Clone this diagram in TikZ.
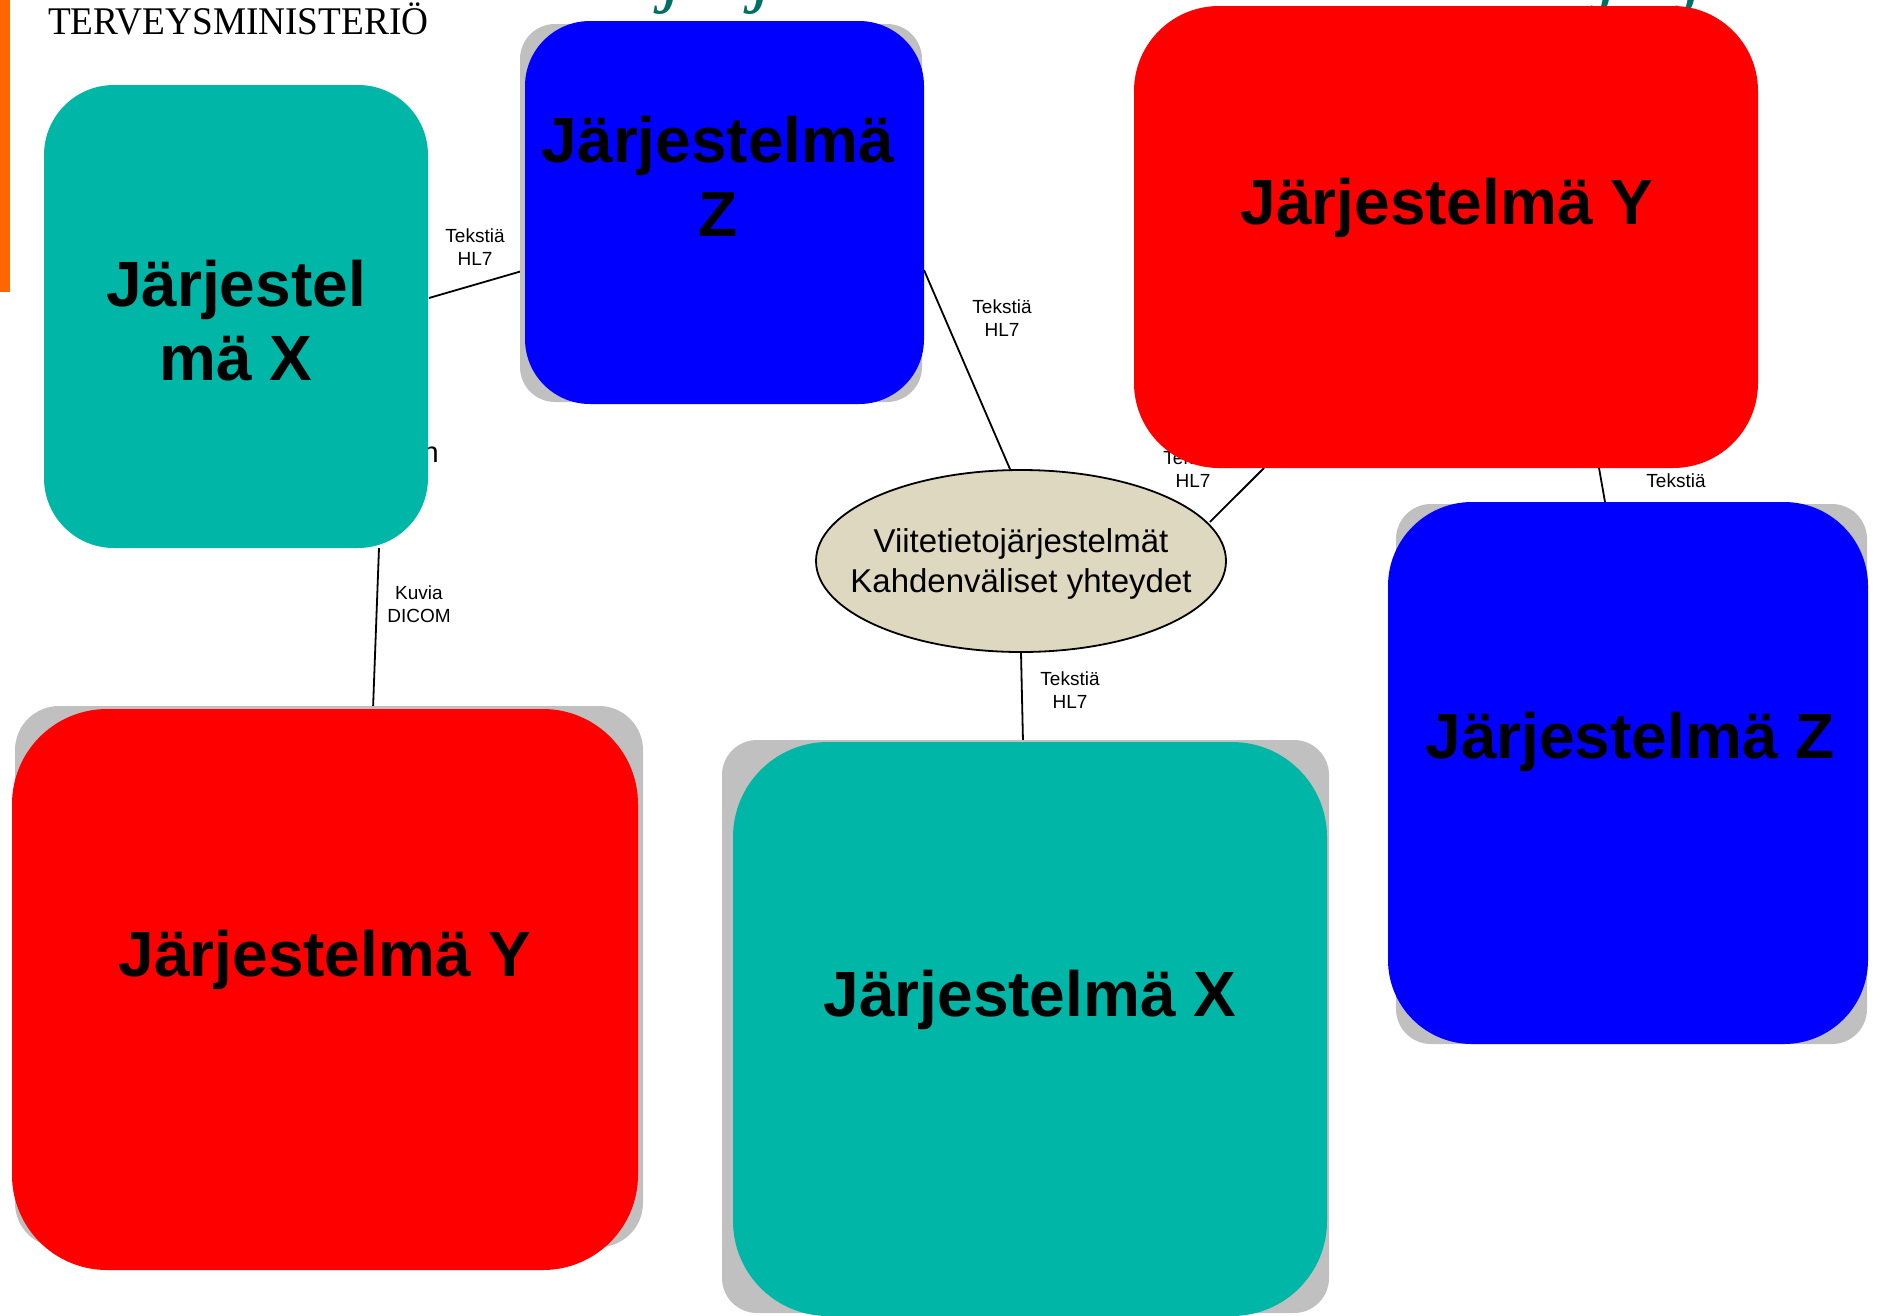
\documentclass[tikz,border=0pt]{standalone}
\usepackage{fontspec}
\setmainfont{Liberation Serif}
\newfontfamily\arialf{Liberation Sans}
\usetikzlibrary{shapes.geometric,calc}
\pgfdeclarelayer{bg}
\pgfsetlayers{bg,main}
\definecolor{tealc}{RGB}{0,182,166}
\definecolor{bluec}{RGB}{0,0,255}
\definecolor{redc}{RGB}{255,0,0}
\definecolor{shadowc}{RGB}{192,192,192}
\definecolor{ellc}{RGB}{223,216,192}
\definecolor{orangec}{RGB}{255,102,0}
\definecolor{titlec}{RGB}{0,112,100}
\begin{document}
\begin{tikzpicture}[x=1pt,y=-1pt,
  sysbox/.style={rectangle, inner sep=0pt, outer sep=0pt, draw=none},
  systext/.style={font=\arialf\bfseries\fontsize{64}{74}\selectfont, inner sep=0pt, anchor=base, align=center},
  lbl/.style={font=\arialf\fontsize{19}{23}\selectfont, inner sep=0pt, anchor=base, align=center},
  conn/.style={draw=black, line width=1.8pt},
  jglyph/.style={anchor=base west, inner sep=0pt, text=titlec, font=\itshape\fontsize{80}{80}\selectfont},
]
\useasboundingbox (0,0) rectangle (1881,1315);
\clip (0,0) rectangle (1881,1315);

% orange side bar and header text
\fill[orangec] (0,0) rectangle (10,292);
\node[anchor=base west, inner sep=0pt, font=\fontsize{37.3}{40}\selectfont] (org) at (48,34) {\scalebox{1}[1.05]{TERVEYSMINISTERIÖ}};

% cut-off title descenders
\node[jglyph] (j1) at (662,-3) {j};
\node[jglyph] (j2) at (752,-3) {j};
\node[jglyph] (j3) at (1598,-3) {j};
\node[jglyph] (j4) at (1683,-3) {j};

% partly hidden text
\node[anchor=base east, inner sep=0pt, font=\arialf\fontsize{29}{30}\selectfont] (nn) at (439,462) {n};

% shadows
\fill[shadowc, rounded corners=35pt] (520,24) rectangle (922,402);
\fill[shadowc, rounded corners=35pt] (1396,504) rectangle (1867,1044);
\fill[shadowc, rounded corners=44pt] (15,706) rectangle (643,1247);
\fill[shadowc, rounded corners=35pt] (722,740) rectangle (1329,1313);

% system boxes
\node[sysbox, fill=tealc, rounded corners=70pt, minimum width=384pt, minimum height=463pt] (tx) at (236,316.5) {};
\node[sysbox, fill=bluec, rounded corners=65pt, minimum width=399pt, minimum height=383pt] (bzt) at (724.5,212.5) {};
\node[sysbox, fill=redc, rounded corners=85pt, minimum width=624pt, minimum height=462pt] (ryt) at (1446,237) {};
\node[sysbox, fill=bluec, rounded corners=84pt, minimum width=480pt, minimum height=542pt] (bzr) at (1628,773) {};
\node[sysbox, fill=redc, rounded corners=95pt, minimum width=626pt, minimum height=561pt] (ryb) at (325,989.5) {};
\node[sysbox, fill=tealc, rounded corners=95pt, minimum width=594pt, minimum height=574pt] (txb) at (1030,1029) {};

% central ellipse
\node[ellipse, fill=ellc, draw=black, line width=1.8pt, minimum width=410pt, minimum height=182pt, inner sep=0pt] (el) at (1021,561) {};
\node[font=\arialf\fontsize{33}{40}\selectfont, anchor=base, align=center, inner sep=0pt] (elt) at (1021,592) {Viitetietojärjestelmät\\Kahdenväliset yhteydet};

% box texts (base anchor = baseline of the last line)
\node[systext] (txt1) at (236,380) {Järjestel\\mä X};
\node[systext] (txt2) at (718,236) {Järjestelmä\\Z};
\node[systext] (txt3) at (1447,224) {Järjestelmä Y};
\node[systext] (txt4) at (1630,758) {Järjestelmä Z};
\node[systext] (txt5) at (325,976) {Järjestelmä Y};
\node[systext] (txt6) at (1030,1016) {Järjestelmä X};

% connectors and labels (behind the boxes)
\begin{pgfonlayer}{bg}
\draw[conn] ($(tx.east)+(1,-18.5)$) -- ($(bzt.west)+(0.5,57.5)$);
\draw[conn] ($(bzt.east)+(0,57.5)$) -- ($(el.north)+(-11,0)$);
\draw[conn] ($(el.east)+(-17,-39)$) -- ($(ryt.south)+(-182,0)$);
\draw[conn] ($(ryt.south)+(153,0)$) -- ($(bzr.north)+(-23,0)$);
\draw[conn] ($(tx.south)+(143,0)$) -- ($(ryb.north)+(48,0)$);
\draw[conn] (el.south) -- ($(txb.north)+(-7,0)$);
\node[lbl] (la) at (475,265) {Tekstiä\\HL7};
\node[lbl] (lb) at (1002,336) {Tekstiä\\HL7};
\node[lbl] (lc) at (1193,487) {Tekstiä\\HL7};
\node[lbl] (ld) at (1676,487) {Tekstiä};
\node[lbl] (le) at (419,622) {Kuvia\\DICOM};
\node[lbl] (lf) at (1070,708) {Tekstiä\\HL7};
\end{pgfonlayer}
\end{tikzpicture}
\end{document}
